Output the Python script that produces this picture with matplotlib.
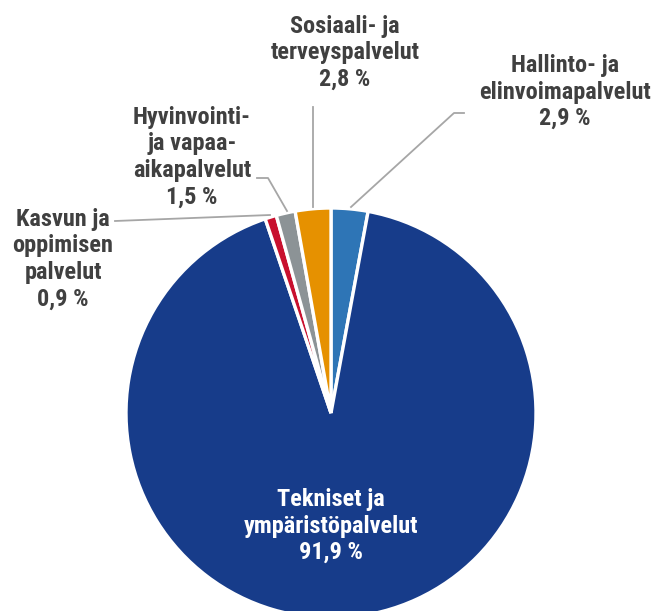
import numpy as np
import matplotlib
matplotlib.use("Agg")
import matplotlib.pyplot as plt

# Data (clockwise from the top)
names = ["Hallinto- ja\nelinvoimapalvelut",
         "Tekniset ja\nympäristöpalvelut",
         "Kasvun ja\noppimisen\npalvelut",
         "Hyvinvointi-\nja vapaa-\naikapalvelut",
         "Sosiaali- ja\nterveyspalvelut"]
shares = [2.9, 91.9, 0.9, 1.5, 2.8]
colors = ["#2E75B6", "#173C8A", "#C8102E", "#8C9396", "#E69100"]

plt.rcParams['font.family'] = ['Roboto Condensed', 'DejaVu Sans Condensed',
                               'Liberation Sans Narrow', 'Roboto', 'DejaVu Sans']

W, H = 655, 611
fig = plt.figure(figsize=(W / 100, H / 100), dpi=100)
ax = fig.add_axes([0, 0, 1, 1])

# pie drawn in pixel coordinates (y flipped, so go counterclock to look clockwise)
cx, cy, r = 331, 413, 205
ax.pie(shares, colors=colors, startangle=-90, counterclock=True,
       center=(cx, cy), radius=r,
       wedgeprops=dict(edgecolor='white', linewidth=2.4))
ax.set_xlim(0, W)
ax.set_ylim(H, 0)
ax.set_aspect('equal')
ax.axis('off')

txt_col = "#404040"
line_col = "#A6A6A6"

# label positions (centre x, centre y of text block)
label_pos = [(565, 92), (331, 526), (63, 259), (192, 157), (345, 53)]
for i, (name, v, (lx, ly)) in enumerate(zip(names, shares, label_pos)):
    s = name + "\n" + f"{v:.1f} %".replace(".", ",")
    ax.text(lx, ly, s, ha='center', va='center', fontsize=17.5, fontweight='bold',
            color='white' if i == 1 else txt_col, linespacing=1.2)

# leader lines
leaders = [
    [(464, 113), (454, 113), (351, 207)],
    [(115, 221), (270, 215)],
    [(257, 178), (268, 178), (287, 211)],
    [(313, 107), (313, 207)],
]
for pts in leaders:
    xs, ys = zip(*pts)
    ax.plot(xs, ys, color=line_col, lw=1.3)

fig.savefig("out.png", dpi=100)
